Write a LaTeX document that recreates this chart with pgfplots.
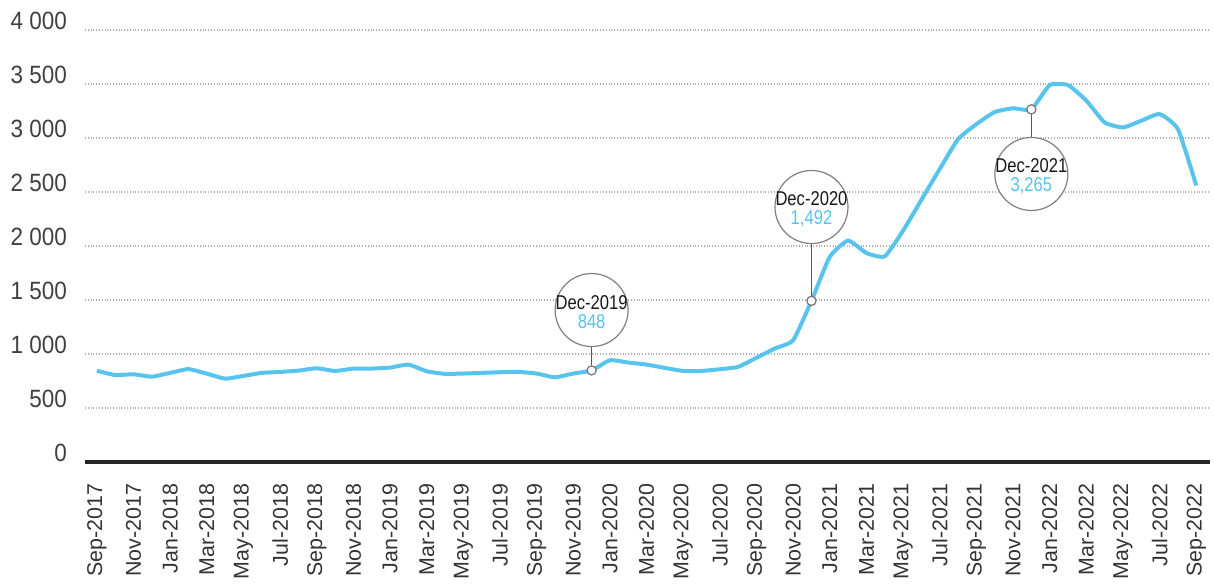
\documentclass[border=0pt]{standalone}
\usepackage{pgfplots}
\pgfplotsset{compat=1.18}
\usepackage{fontspec}
\setmainfont{Liberation Sans}
\newfontfamily\tickfont[FakeStretch=0.9]{Liberation Sans}
\newfontfamily\annfont[FakeStretch=0.83]{Liberation Sans}
\definecolor{lineblue}{RGB}{88,196,238}
\definecolor{gridgray}{RGB}{175,175,175}
\begin{document}
\begin{tikzpicture}
\path[use as bounding box] (-42.5pt,-62.5pt) rectangle (564.5pt,231pt);
\begin{axis}[
  name=ax, at={(0,0)}, anchor=south west,
  scale only axis, width=562.5pt, height=216pt,
  xmin=-0.65, xmax=60.75, ymin=0, ymax=4000,
  axis x line=bottom, axis y line=left,
  x axis line style={-, line width=2pt, draw=black!85},
  y axis line style={draw=none},
  major tick length=0pt,
  tick style={draw=none},
  ytick={0,500,...,4000},
  yticklabels={0,500,1 000,1 500,2 000,2 500,3 000,3 500,4 000},
  ymajorgrids,
  grid style={gridgray, densely dotted, line width=0.6pt},
  yticklabel style={font=\tickfont\fontsize{12.5}{14}\selectfont, text=black!75, yshift=4.5pt},
  yticklabel shift=5.5pt,
  xtick={0,2,...,60},
  xticklabels={Sep-2017,Nov-2017,Jan-2018,Mar-2018,May-2018,Jul-2018,Sep-2018,Nov-2018,Jan-2019,Mar-2019,May-2019,Jul-2019,Sep-2019,Nov-2019,Jan-2020,Mar-2020,May-2020,Jul-2020,Sep-2020,Nov-2020,Jan-2021,Mar-2021,May-2021,Jul-2021,Sep-2021,Nov-2021,Jan-2022,Mar-2022,May-2022,Jul-2022,Sep-2022},
  xticklabel style={rotate=90, anchor=east, font=\fontsize{10.7}{12}\selectfont, text=black!80},
  xticklabel shift=7.5pt,
  clip=false,
]
\addplot[lineblue, line width=2pt, smooth, tension=0.3] coordinates {
(0,845) (1,805) (2,812) (3,790) (4,825) (5,860) (6,818) (7,772) (8,797) (9,825)
(10,834) (11,846) (12,868) (13,843) (14,865) (15,865) (16,874) (17,902) (18,840) (19,816)
(20,819) (21,825) (22,831) (23,834) (24,819) (25,784) (26,819) (27,848) (28,942) (29,921)
(30,902) (31,871) (32,843) (33,843) (34,859) (35,881) (36,965) (37,1051) (38,1128) (39,1492)
(40,1900) (41,2050) (42,1935) (43,1904) (44,2142) (45,2428) (46,2713) (47,2989) (48,3128) (49,3240)
(50,3275) (51,3265) (52,3490) (53,3490) (54,3346) (55,3144) (56,3098) (57,3160) (58,3221) (59,3082)
(60,2560)
};
\draw[black!65, line width=0.8pt] (axis cs:27,848) -- (axis cs:27,1407);
\draw[black!65, line width=0.8pt] (axis cs:39,1492) -- (axis cs:39,2361);
\draw[black!65, line width=0.8pt] (axis cs:51,3265) -- (axis cs:51,2667);
\node[circle, draw=black!50, fill=white, line width=0.6pt, minimum size=36.5pt, inner sep=0pt] at (axis cs:27,1407) {};
\node[circle, draw=black!50, fill=white, line width=0.6pt, minimum size=36.5pt, inner sep=0pt] at (axis cs:39,2361) {};
\node[circle, draw=black!50, fill=white, line width=0.6pt, minimum size=36.5pt, inner sep=0pt] at (axis cs:51,2667) {};
\node[align=center, inner sep=0pt, yshift=-1pt, font=\annfont\fontsize{10}{10}\selectfont] at (axis cs:27,1407) {\textcolor{black!90}{Dec-2019}\\[-0.5pt]\textcolor{lineblue}{848}};
\node[align=center, inner sep=0pt, yshift=-1pt, font=\annfont\fontsize{10}{10}\selectfont] at (axis cs:39,2361) {\textcolor{black!90}{Dec-2020}\\[-0.5pt]\textcolor{lineblue}{1,492}};
\node[align=center, inner sep=0pt, yshift=-1pt, font=\annfont\fontsize{10}{10}\selectfont] at (axis cs:51,2667) {\textcolor{black!90}{Dec-2021}\\[-0.5pt]\textcolor{lineblue}{3,265}};
\addplot[only marks, mark=*, mark size=2.3pt, mark options={fill=white, draw=black!55, line width=0.6pt}] coordinates {(27,848) (39,1492) (51,3265)};
\end{axis}
\end{tikzpicture}
\end{document}
